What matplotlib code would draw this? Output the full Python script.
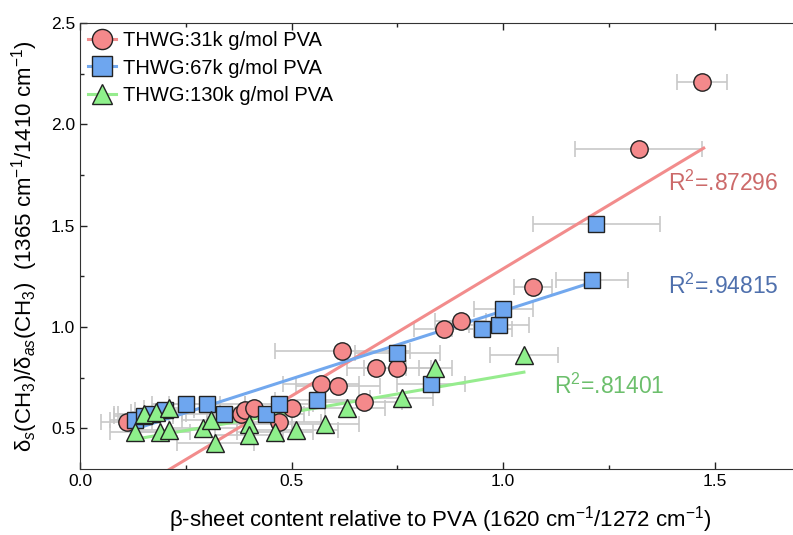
import matplotlib.pyplot as plt
from matplotlib.lines import Line2D
import numpy as np

plt.rcParams['font.family'] = ['Liberation Sans', 'DejaVu Sans']
plt.rcParams['mathtext.fontset'] = 'custom'
plt.rcParams['mathtext.rm'] = 'Liberation Sans'
plt.rcParams['mathtext.it'] = 'Liberation Sans:italic'
plt.rcParams['axes.unicode_minus'] = False

# THWG with 31k g/mol PVA
x31 = [0.11, 0.38, 0.39, 0.41, 0.47, 0.50, 0.57, 0.61, 0.62, 0.67, 0.70, 0.75, 0.86, 0.90, 1.07, 1.32, 1.47]
y31 = [0.53, 0.57, 0.59, 0.60, 0.53, 0.60, 0.72, 0.71, 0.88, 0.63, 0.80, 0.80, 0.99, 1.03, 1.20, 1.88, 2.21]
e31 = [0.06, 0.08, 0.07, 0.09, 0.10, 0.08, 0.09, 0.10, 0.16, 0.09, 0.07, 0.08, 0.07, 0.06, 0.045, 0.15, 0.06]

# THWG with 67k g/mol PVA
x67 = [0.13, 0.15, 0.17, 0.20, 0.25, 0.30, 0.34, 0.44, 0.47, 0.56, 0.75, 0.83, 0.95, 0.99, 1.00, 1.21, 1.22]
y67 = [0.54, 0.56, 0.57, 0.59, 0.62, 0.62, 0.57, 0.57, 0.62, 0.64, 0.87, 0.72, 0.99, 1.01, 1.09, 1.23, 1.51]
e67 = [0.06, 0.07, 0.08, 0.07, 0.08, 0.09, 0.10, 0.09, 0.08, 0.10, 0.10, 0.08, 0.07, 0.07, 0.07, 0.085, 0.15]

# THWG with 130k g/mol PVA
x130 = [0.13, 0.15, 0.18, 0.19, 0.21, 0.21, 0.29, 0.31, 0.32, 0.40, 0.40, 0.46, 0.51, 0.58, 0.63, 0.76, 0.84, 1.05]
y130 = [0.48, 0.57, 0.58, 0.48, 0.49, 0.60, 0.50, 0.54, 0.43, 0.52, 0.47, 0.48, 0.49, 0.52, 0.60, 0.65, 0.80, 0.86]
e130 = [0.06, 0.07, 0.06, 0.07, 0.08, 0.06, 0.08, 0.07, 0.09, 0.10, 0.08, 0.09, 0.10, 0.08, 0.09, 0.075, 0.04, 0.08]

# linear fits: slope, intercept, x range, R^2 label
fit31 = (1.255, 0.033, 0.11, 1.474, '.87296')
fit67 = (0.67, 0.41, 0.12, 1.214, '.94815')
fit130 = (0.36, 0.40, 0.13, 1.049, '.81401')

series = [
    ('THWG:31k g/mol PVA', x31, y31, e31, fit31, 'o', '#f4898b', '#f28c8c', '#cc6a6a', (1.39, 1.71)),
    ('THWG:67k g/mol PVA', x67, y67, e67, fit67, 's', '#6ea6ef', '#72a8ee', '#4f70ad', (1.39, 1.20)),
    ('THWG:130k g/mol PVA', x130, y130, e130, fit130, '^', '#8ef08b', '#96ec8e', '#6cbf6c', (1.12, 0.71)),
]

fig = plt.figure(figsize=(7.93, 5.35), dpi=100)
ax = fig.add_axes([0.101, 0.1234, 0.907, 0.8336])

handles = []
for label, xs, ys, es, fit, mk, face, lc, tc, tpos in series:
    ax.errorbar(xs, ys, xerr=es, fmt='none', ecolor='#c8c8c8', elinewidth=1.2,
                capsize=5.5, capthick=1.2, zorder=1)
for label, xs, ys, es, fit, mk, face, lc, tc, tpos in series:
    slope, icpt, x0, x1, r2 = fit
    fx = np.array([x0, x1])
    ax.plot(fx, slope * fx + icpt, color=lc, lw=2.2, zorder=2)
    ax.text(tpos[0], tpos[1], 'R$^2$=' + r2, color=tc, fontsize=16.5, va='center')
for i, (label, xs, ys, es, fit, mk, face, lc, tc, tpos) in enumerate(series):
    ms = 12 if mk == 's' else 12.5
    ax.plot(xs, ys, ls='none', marker=mk, ms=ms,
            mfc=face, mec='#222222', mew=1.0, zorder=3 + i)
    handles.append(Line2D([], [], color=lc, lw=2.2, marker=mk, ms=ms + 2,
                          mfc=face, mec='#222222', mew=1.0, label=label))

ax.legend(handles=handles, loc='upper left', frameon=False, fontsize=14.5,
          handlelength=1.4, handletextpad=0.35, borderaxespad=0.1, labelspacing=0.42,
          borderpad=0.3)

ax.set_xlim(0, 1.7)
ax.set_ylim(0.3, 2.5)
ax.set_xticks([0.0, 0.5, 1.0, 1.5])
ax.set_xticks([0.25, 0.75, 1.25], minor=True)
ax.set_yticks([0.5, 1.0, 1.5, 2.0, 2.5])
ax.set_yticks([0.75, 1.25, 1.75, 2.25], minor=True)
ax.set_xticklabels(['0.0', '0.5', '1.0', '1.5'])
ax.tick_params(which='both', direction='in', top=True, right=False, labelsize=12.5,
               width=1.0, color='#222222')
ax.tick_params(which='major', length=5)
ax.tick_params(which='minor', length=3)
ax.spines['right'].set_visible(False)
for s in ['left', 'top', 'bottom']:
    ax.spines[s].set_color('#333333')

ax.set_xlabel('β-sheet content relative to PVA (1620 cm$^{-1}$/1272 cm$^{-1}$)', fontsize=16, labelpad=11)
ax.set_ylabel('δ$_s$(CH$_3$)/δ$_{as}$(CH$_3$)  (1365 cm$^{-1}$/1410 cm$^{-1}$)', fontsize=16, labelpad=8)

fig.savefig('out.png', dpi=100)
